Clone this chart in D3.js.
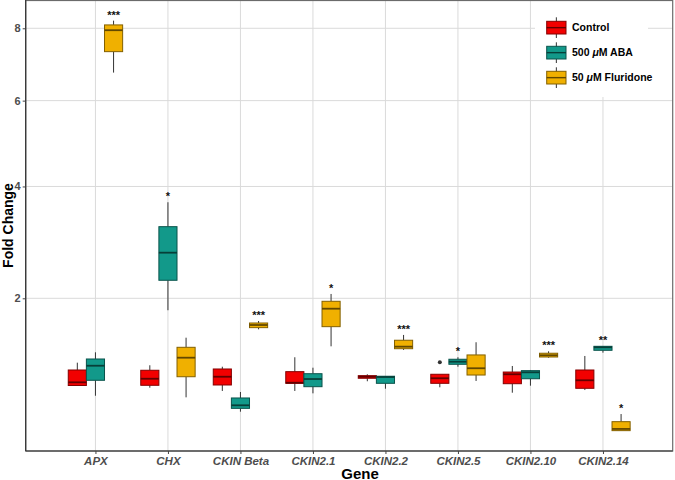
<!DOCTYPE html>
<html><head><meta charset="utf-8">
<script src="https://cdn.jsdelivr.net/npm/d3@7"></script>
<style>body{margin:0;background:#fff} text{font-family:"Liberation Sans",Arial,Helvetica,sans-serif}</style>
</head><body><svg id="c" width="675" height="480"></svg>
<script>
const genes = ["APX","CHX","CKIN Beta","CKIN2.1","CKIN2.2","CKIN2.5","CKIN2.10","CKIN2.14"];
const seriesNames = ["Control","500 μM ABA","50 μM Fluridone"];
const seriesColors = ["#f20000","#12998a","#f0b000"];
// [lower whisker, Q1, median, Q3, upper whisker] per gene
const controlStats = [
  [0.917,0.917,0.949,1.079,1.160],
  [0.895,0.919,0.986,1.076,1.131],
  [0.863,0.922,1.007,1.090,1.115],
  [0.863,0.939,0.945,1.061,1.222],
  [0.960,0.991,1.007,1.018,1.033],
  [0.899,0.939,0.991,1.033,1.033],
  [0.846,0.935,1.033,1.057,1.123],
  [0.872,0.889,0.970,1.079,1.237]
];
const abaStats = [
  [0.817,0.970,1.126,1.202,1.280],
  [1.827,2.276,2.733,3.202,3.676],
  [0.673,0.702,0.729,0.796,0.853],
  [0.840,0.905,0.983,1.039,1.104],
  [0.885,0.939,1.004,1.012,1.012],
  [1.115,1.142,1.171,1.199,1.222],
  [0.915,0.986,1.054,1.072,1.079],
  [1.276,1.304,1.340,1.352,1.352]
];
const fluStats = [
  [6.741,7.323,7.943,8.100,8.228],
  [0.802,1.007,1.217,1.340,1.459],
  [1.567,1.589,1.624,1.651,1.678],
  [1.352,1.602,1.849,1.956,2.065],
  [1.308,1.323,1.348,1.427,1.494],
  [0.963,1.025,1.098,1.249,1.402],
  [1.217,1.225,1.245,1.269,1.292],
  [0.520,0.520,0.533,0.590,0.653]
];
const yTicks = [2,4,6,8];
const sigGenes = ["APX","CHX","CKIN Beta","CKIN2.1","CKIN2.2","CKIN2.5","CKIN2.10","CKIN2.14","CKIN2.14"];
const sigSeries = [2,1,2,2,2,1,2,1,2];
const sigLabels = ["***","*","***","*","***","*","***","**","*"];
const outlierGenes = ["CKIN2.5"];
const outlierSeries = [0];
const outlierValues = [1.165];

const allStats = [controlStats, abaStats, fluStats];
const svg = d3.select("#c");
const L = 25.7, R = 672.7, T = 0, B = 451;

const x = d3.scalePoint().domain(genes).range([L, R]).padding(0.962);
const y = d3.scalePow().exponent(0.5).domain([0.3776, 8.86]).range([B, T]);
const dodge = x.step() * 0.25;
const bw = x.step() * 0.25;
const xs = (g, s) => x(g) + (s - 1) * dodge;

// gridlines
const grid = svg.append("g");
grid.selectAll("line.h").data(yTicks).join("line")
  .attr("x1", L).attr("x2", R).attr("y1", d => y(d)).attr("y2", d => y(d))
  .attr("stroke", "#dadada").attr("stroke-width", 1);
grid.selectAll("line.v").data(genes).join("line")
  .attr("x1", d => x(d)).attr("x2", d => x(d)).attr("y1", T).attr("y2", B)
  .attr("stroke", "#dadada").attr("stroke-width", 1);

// legend background (covers grid)
svg.append("rect").attr("x", 535).attr("y", 1).attr("width", 113).attr("height", 96).attr("fill", "#fff");

// boxes
allStats.forEach((stats, s) => {
  const fill = seriesColors[s];
  const edge = d3.color(fill).darker(1.7).formatHex();
  const med = d3.color(fill).darker(2.5).formatHex();
  const g = svg.append("g");
  stats.forEach((st, i) => {
    const cx = xs(genes[i], s);
    g.append("line").attr("x1", cx).attr("x2", cx).attr("y1", y(st[4])).attr("y2", y(st[3]))
      .attr("stroke", "#333").attr("stroke-width", 1);
    g.append("line").attr("x1", cx).attr("x2", cx).attr("y1", y(st[1])).attr("y2", y(st[0]))
      .attr("stroke", "#333").attr("stroke-width", 1);
    g.append("rect").attr("x", cx - bw / 2).attr("width", bw)
      .attr("y", y(st[3])).attr("height", Math.max(0.5, y(st[1]) - y(st[3])))
      .attr("fill", fill).attr("stroke", edge).attr("stroke-width", 1);
    g.append("line").attr("x1", cx - bw / 2).attr("x2", cx + bw / 2).attr("y1", y(st[2])).attr("y2", y(st[2]))
      .attr("stroke", med).attr("stroke-width", 1.8);
  });
});

// outliers
outlierGenes.forEach((gn, i) => {
  svg.append("circle").attr("cx", xs(gn, outlierSeries[i])).attr("cy", y(outlierValues[i]))
    .attr("r", 2).attr("fill", "#333");
});

// significance labels
sigGenes.forEach((gn, i) => {
  const s = sigSeries[i];
  const st = allStats[s][genes.indexOf(gn)];
  svg.append("text").attr("x", xs(gn, s)).attr("y", y(st[4]) - 2)
    .attr("text-anchor", "middle").attr("font-size", 11).attr("font-weight", "bold")
    .attr("fill", "#111").text(sigLabels[i]);
});

// panel border and axes
svg.append("rect").attr("x", L).attr("y", T + 0.5).attr("width", R - L).attr("height", B - T - 0.5)
  .attr("fill", "none").attr("stroke", "#6b6b6b").attr("stroke-width", 1.2);
svg.append("line").attr("x1", L).attr("x2", R).attr("y1", B).attr("y2", B).attr("stroke", "#333").attr("stroke-width", 1.2);
svg.append("line").attr("x1", L).attr("x2", L).attr("y1", T).attr("y2", B).attr("stroke", "#333").attr("stroke-width", 1.2);

const yAxis = svg.append("g").attr("transform", `translate(${L},0)`)
  .call(d3.axisLeft(y).tickValues(yTicks).tickSize(3).tickPadding(2).tickFormat(d3.format("d")));
yAxis.select(".domain").remove();
yAxis.selectAll("line").attr("stroke", "#444");
yAxis.selectAll("text").attr("font-size", 11).attr("font-weight", "bold").attr("fill", "#4d4d4d")
  .attr("font-family", '"Liberation Sans",Arial,sans-serif');

const xAxis = svg.append("g").attr("transform", `translate(0,${B})`)
  .call(d3.axisBottom(x).tickSize(3).tickPadding(3));
xAxis.select(".domain").remove();
xAxis.selectAll("line").attr("stroke", "#444");
xAxis.selectAll("text").attr("font-size", 11.5).attr("font-weight", "bold").attr("font-style", "italic")
  .attr("fill", "#4d4d4d").attr("font-family", '"Liberation Sans",Arial,sans-serif');

// axis titles
svg.append("text").attr("x", 360).attr("y", 478.5).attr("text-anchor", "middle")
  .attr("font-size", 15).attr("font-weight", "bold").attr("fill", "#000").text("Gene");
svg.append("text").attr("transform", `translate(13,${(T + B) / 2}) rotate(-90)`).attr("text-anchor", "middle")
  .attr("font-size", 14).attr("font-weight", "bold").attr("fill", "#000").text("Fold Change");

// legend
const lg = svg.append("g");
seriesNames.forEach((nm, i) => {
  const top = 21.3 + i * 25;
  const h = 12.7, kx = 546.7, kw = 19.3, cx = kx + kw / 2;
  const fill = seriesColors[i];
  lg.append("line").attr("x1", cx).attr("x2", cx).attr("y1", top - 4).attr("y2", top + h + 4).attr("stroke", "#333");
  lg.append("rect").attr("x", kx).attr("y", top).attr("width", kw).attr("height", h)
    .attr("fill", fill).attr("stroke", d3.color(fill).darker(1.7).formatHex());
  lg.append("line").attr("x1", kx).attr("x2", kx + kw).attr("y1", top + h / 2).attr("y2", top + h / 2)
    .attr("stroke", d3.color(fill).darker(2.5).formatHex()).attr("stroke-width", 1.4);
  const t = lg.append("text").attr("x", 572).attr("y", top + h / 2 + 3.8).attr("font-size", 10.5)
    .attr("font-weight", "bold").attr("fill", "#000");
  const m = nm.match(/^(\d+ )(μ)(.*)$/);
  if (m) {
    t.append("tspan").text(m[1]);
    t.append("tspan").attr("font-style", "italic").text(m[2]);
    t.append("tspan").text(m[3]);
  } else t.text(nm);
});
</script></body></html>
